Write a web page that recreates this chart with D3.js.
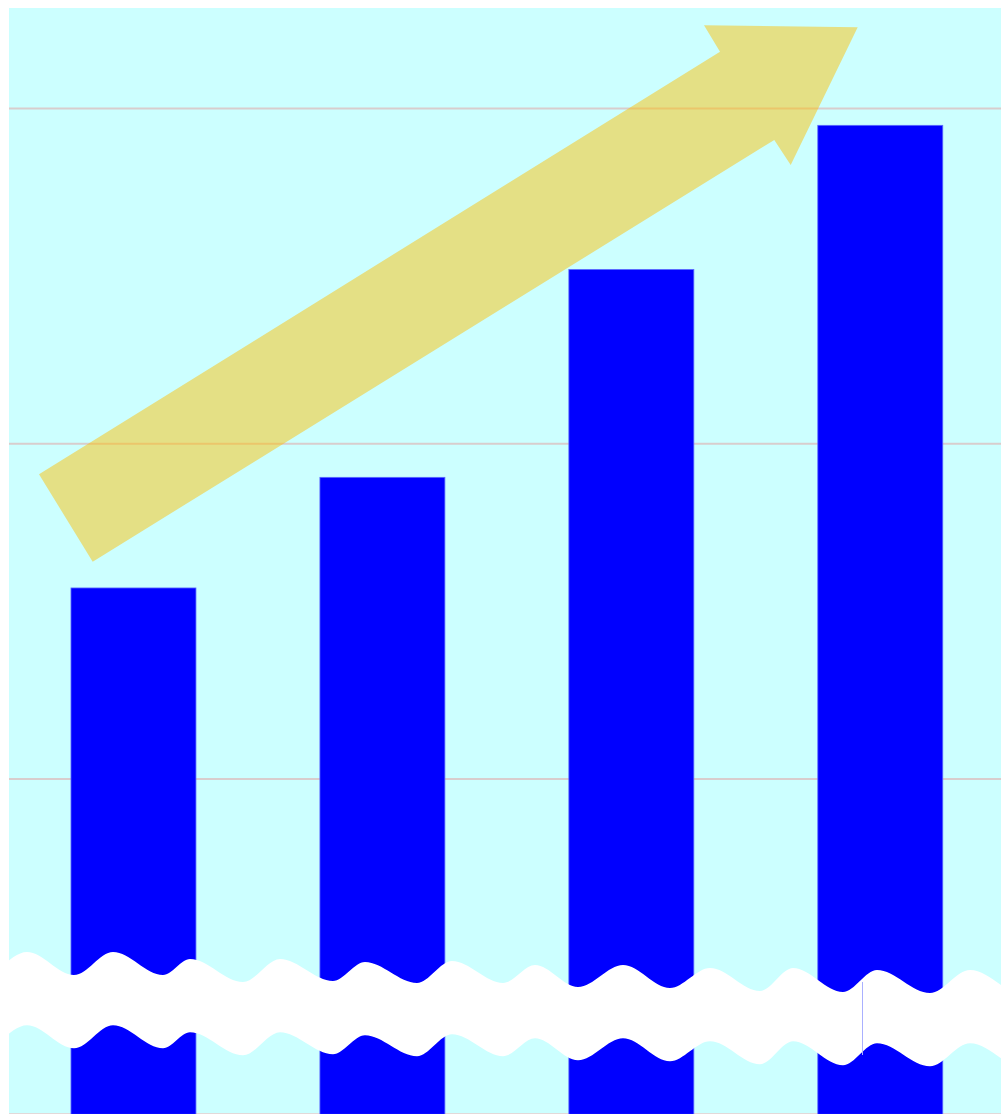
<!DOCTYPE html>
<html>
<head>
<meta charset="utf-8">
<script src="https://cdn.jsdelivr.net/npm/d3@7"></script>
<style>
  html, body { margin: 0; padding: 0; background: #ffffff; }
  svg { display: block; }
</style>
</head>
<body>
<script>
// ---- data ----
const categories = ["A", "B", "C", "D"];
const values = [157, 190, 252, 295];
const gridValues = [0, 100, 200, 300];
const yDomain = [0, 330];

// ---- decoration: broken-axis wave (top edge extremes, pixels) ----
const breakEdge = [
  [0, 968], [27, 952], [74, 975], [113, 952], [163, 975], [190, 959],
  [243, 982], [280, 959], [333, 981], [365, 962], [417, 983], [452, 961],
  [503, 983], [535, 965], [578, 987], [623, 965], [670, 988], [710, 968],
  [760, 991], [793, 968], [843, 992], [877, 970], [930, 993], [970, 970],
  [1001, 985]
];
const breakThickness = 73.3;

// ---- decoration: trend arrow polygon (pixels) ----
const arrowShape = [
  [39, 474.3], [720, 51.7], [704, 25.3], [857.7, 27.3],
  [790.7, 165], [774.3, 140], [92.7, 561.7]
];

const W = 1001, H = 1114;
const panel = { x: 9, y: 8, w: 992, h: 1105 };

const svg = d3.select("body").append("svg")
  .attr("width", W).attr("height", H);

svg.append("rect")
  .attr("x", panel.x).attr("y", panel.y)
  .attr("width", panel.w).attr("height", panel.h)
  .attr("fill", "#ccffff");

const x = d3.scaleBand()
  .domain(categories)
  .range([8.75, 1005])
  .paddingInner(0.498)
  .paddingOuter(0.25);

const y = d3.scaleLinear()
  .domain(yDomain)
  .range([1114.3, 8]);

// gridlines
svg.append("g").selectAll("line")
  .data(gridValues)
  .join("line")
  .attr("x1", panel.x).attr("x2", panel.x + panel.w)
  .attr("y1", d => y(d)).attr("y2", d => y(d))
  .attr("stroke", "#d8cdcd")
  .attr("stroke-width", 2);

// bars
svg.append("g").selectAll("rect")
  .data(values)
  .join("rect")
  .attr("x", (d, i) => x(categories[i]))
  .attr("width", x.bandwidth())
  .attr("y", d => y(d))
  .attr("height", d => y(0) - y(d))
  .attr("fill", "#0000ff")
  .attr("stroke", "#5a68ff")
  .attr("stroke-width", 0.8);

// trend arrow
svg.append("polygon")
  .attr("points", arrowShape.map(p => p.join(",")).join(" "))
  .attr("fill", "rgb(255,190,0)")
  .attr("fill-opacity", 0.48);

// axis break band
const band = d3.area()
  .x(d => d[0])
  .y0(d => d[1])
  .y1(d => d[1] + breakThickness)
  .curve(d3.curveMonotoneX);

svg.append("path")
  .attr("d", band(breakEdge))
  .attr("fill", "#ffffff");

// thin seam in the break band
svg.append("line")
  .attr("x1", 862.5).attr("x2", 862.5)
  .attr("y1", 982).attr("y2", 1055)
  .attr("stroke", "#aab0ff")
  .attr("stroke-width", 1);
</script>
</body>
</html>
